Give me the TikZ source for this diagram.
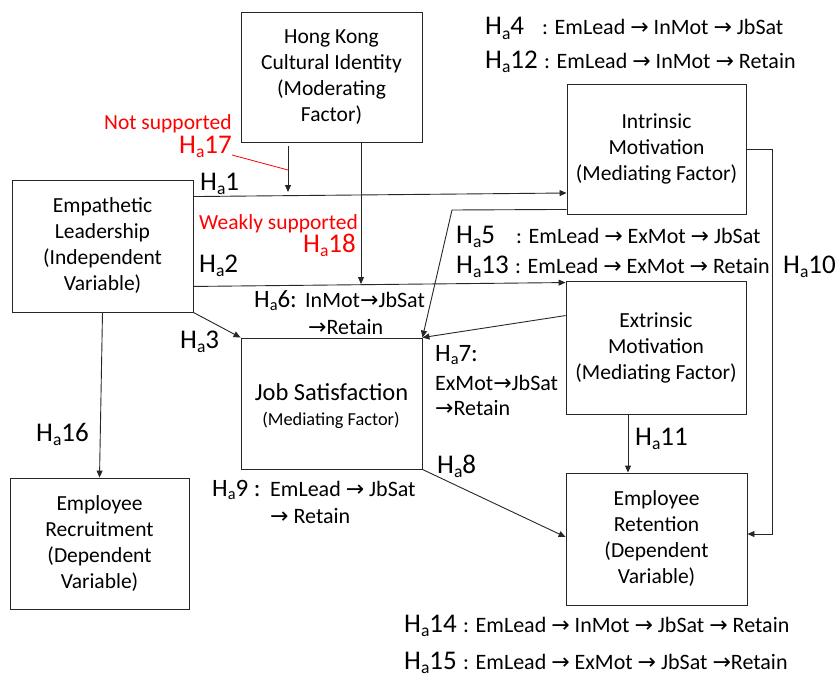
\documentclass[tikz,border=0pt]{standalone}
\usepackage{fontspec}
\setmainfont{Carlito}
\newfontfamily\arrowfont{DejaVu Sans}
\usetikzlibrary{arrows.meta,calc}
\newcommand\rarr{{\arrowfont →}}
\newcommand\Hsub[1]{H\raisebox{-0.15em}{\scalebox{0.65}{a}}#1}
\definecolor{linec}{HTML}{262626}
\begin{document}
\begin{tikzpicture}[x=1pt,y=-1pt,
  box/.style={draw=linec,line width=0.9pt,inner sep=0pt,align=center,
    font=\fontsize{21.5}{26}\selectfont},
  hl/.style={anchor=base west,inner sep=0pt,font=\fontsize{27}{27}\selectfont},
  hs/.style={anchor=base west,inner sep=0pt,font=\fontsize{25}{25}\selectfont},
  tl/.style={anchor=base west,inner sep=0pt,font=\fontsize{22}{26}\selectfont},
  rl/.style={anchor=base west,inner sep=0pt,text=red,font=\fontsize{21.5}{26}\selectfont},
  arr/.style={draw=linec,line width=0.9pt,-{Triangle[length=7pt,width=6pt]}},
  ln/.style={draw=linec,line width=0.9pt}]
\useasboundingbox (0,0) rectangle (835,677);

% boxes
\node[box,minimum width=181,minimum height=130] (hk) at (331.5,77)
  {Hong Kong\\Cultural Identity\\(Moderating\\Factor)};
\node[box,minimum width=181,minimum height=132] (emlead) at (102.5,246)
  {Empathetic\\Leadership\\(Independent\\Variable)};
\node[box,minimum width=179,minimum height=131] (recruit) at (99.5,543.5)
  {Employee\\Recruitment\\(Dependent\\Variable)};
\node[box,minimum width=181,minimum height=131] (js) at (331.5,403.5) {};
\node[anchor=base,inner sep=0pt,font=\fontsize{24.5}{26}\selectfont] (js1) at (331.5,400) {Job Satisfaction};
\node[anchor=base,inner sep=0pt,font=\fontsize{18.3}{22}\selectfont] (js2) at (331,425) {(Mediating Factor)};
\node[box,minimum width=179,minimum height=130] (inmot) at (656.5,149)
  {Intrinsic\\Motivation\\(Mediating Factor)};
\node[box,minimum width=180,minimum height=133] (exmot) at (656,347.5)
  {Extrinsic\\Motivation\\(Mediating Factor)};
\node[box,minimum width=181,minimum height=132] (ret) at (656.5,539)
  {Employee\\Retention\\(Dependent\\Variable)};

% helper coordinates
\coordinate (m1) at (288,192);
\coordinate (m2) at (361,284);
\coordinate (m17) at (288,170);
\coordinate (bend) at (452,210);

% connectors
\draw[arr] ([yshift=-17pt]emlead.north east) -- ([yshift=-44pt]inmot.west);
\draw[arr] ([yshift=26pt]emlead.south east) -- ([yshift=-2pt]exmot.north west);
\draw[arr] ([xshift=-43.5pt,yshift=-4pt]hk.south) -- (m1);
\draw[arr] ([xshift=29.5pt]hk.south) -- (m2);
\draw[arr] (emlead.south east) -- (js.north west);
\draw[arr] (emlead.south) -- (recruit.north);
\draw[arr] ([yshift=5pt]inmot.south west) -- (bend) -- (js.north east);
\draw[arr] ([yshift=-35pt]exmot.north west) -- (js.north east);
\draw[arr] (js.south east) -- ([yshift=2pt]ret.west);
\draw[arr] ([xshift=-28pt]exmot.south) -- ([xshift=-28.5pt]ret.north);
\draw[arr] (inmot.east) -- ++(26,0) |- ([yshift=5pt]ret.east);

% labels
\node[hl] (l4) at (485,35) {\Hsub{4}};
\node[tl] (t4) at (542,35) {: EmLead \rarr{} InMot \rarr{} JbSat};
\node[hl] (l12) at (485,68) {\Hsub{12}};
\node[tl] (t12) at (544,68) {: EmLead \rarr{} InMot \rarr{} Retain};
\node[hl] (l5) at (456,243) {\Hsub{5}};
\node[tl] (t5) at (516,243) {: EmLead \rarr{} ExMot \rarr{} JbSat};
\node[hl] (l13) at (456,273) {\Hsub{13}};
\node[tl] (t13) at (515,273) {: EmLead \rarr{} ExMot \rarr{} Retain};
\node[hl] (l10) at (783,273) {\Hsub{10}};
\node[hl] (l11) at (635,445) {\Hsub{11}};
\node[hl] (l8) at (437,473) {\Hsub{8}};
\node[hs] (l7) at (435,361) {\Hsub{7}:};
\node[tl] (t7a) at (435,390) {ExMot\rarr{}JbSat};
\node[tl] (t7b) at (435,415) {\rarr{}Retain};
\node[hs] (l6) at (254,307) {\Hsub{6}:};
\node[tl] (t6a) at (305,307) {InMot\rarr{}JbSat};
\node[tl] (t6b) at (308,334) {\rarr{}Retain};
\node[hs] (l9) at (212,496) {\Hsub{9} :};
\node[tl] (t9a) at (270,496) {EmLead \rarr{} JbSat};
\node[tl] (t9b) at (270,523) {\rarr{} Retain};
\node[hl] (l16) at (36,441) {\Hsub{16}};
\node[hl] (l3) at (180,348) {\Hsub{3}};
\node[hl] (l1) at (200,190) {\Hsub{1}};
\node[hl] (l2) at (199,272) {\Hsub{2}};
\node[hl] (l14) at (404,632) {\Hsub{14}};
\node[tl] (t14) at (463,632) {: EmLead \rarr{} InMot \rarr{} JbSat \rarr{} Retain};
\node[hl] (l15) at (404,669) {\Hsub{15}};
\node[tl] (t15) at (463,669) {: EmLead \rarr{} ExMot \rarr{} JbSat \rarr{}Retain};

% red notes
\node[rl] (ns) at (104,129) {Not supported};
\node[hl,text=red] (h17) at (179,153) {\Hsub{17}};
\node[rl] (ws) at (199,229) {Weakly supported};
\node[hl,text=red] (h18) at (303,252) {\Hsub{18}};
\draw[red,line width=0.8pt] ([yshift=-2pt]h17.base east) -- (m17);
\end{tikzpicture}
\end{document}
